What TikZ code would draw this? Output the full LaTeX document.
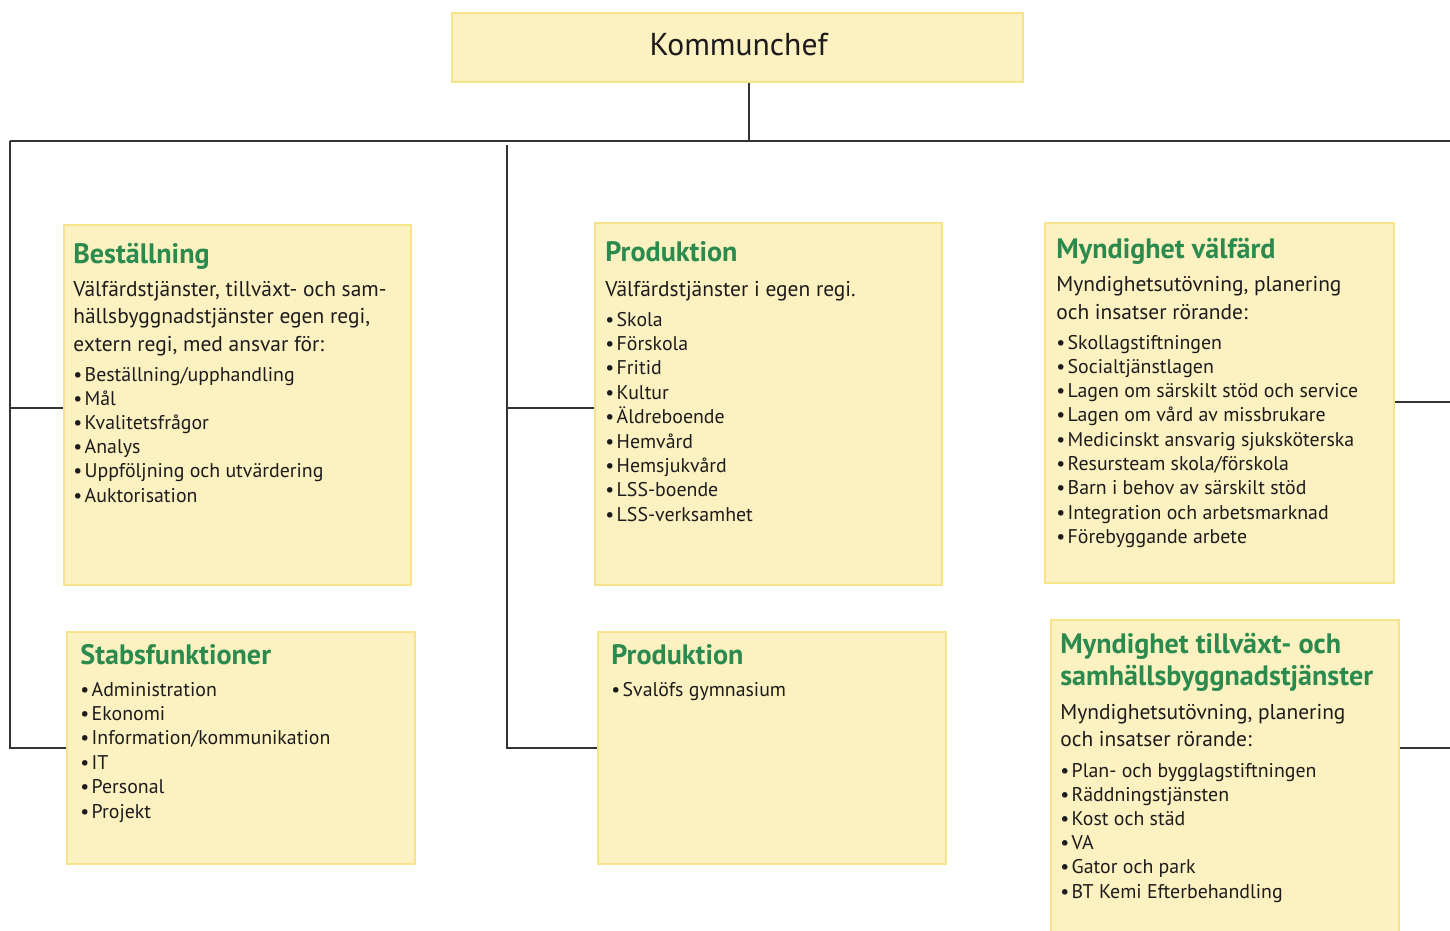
\documentclass[tikz,border=0pt]{standalone}
\usepackage{fontspec}
\setmainfont{PT Sans}
\definecolor{boxfill}{HTML}{FCF1C0}
\definecolor{boxline}{HTML}{F6E38A}
\definecolor{ttl}{HTML}{2B8A4E}
\definecolor{txt}{HTML}{1E1B1C}
\definecolor{conncol}{HTML}{333333}
\tikzset{
 orgbox/.style={draw=boxline, fill=boxfill, line width=1.3pt, inner sep=0pt, anchor=north west},
 conn/.style={draw=conncol, line width=1pt},
 ttlt/.style={anchor=base west, inner sep=0pt, text=ttl, font=\bfseries\fontsize{16}{18}\selectfont},
 para/.style={anchor=base west, inner sep=0pt, text=txt, font=\fontsize{12.2}{14}\selectfont},
 bul/.style={anchor=base west, inner sep=0pt, text=txt, font=\fontsize{11.3}{13}\selectfont},
 chefT/.style={text=txt, inner sep=0pt, font=\fontsize{18}{20}\selectfont},
}
% name, style, x, first baseline, step, list
\newcommand\txtlines[6]{%
  \foreach \t [count=\i] in {#6} {\node[#2] (#1-\i) at (#3, {#4+(\i-1)*#5}) {\t};}}
\newcommand\bulletlines[5]{%
  \foreach \t [count=\i] in {#5} {\node[bul] (#1-\i) at (#2, {#3+(\i-1)*#4}) {•\hspace{0.12em}\t};}}
\begin{document}
\begin{tikzpicture}[x=0.02cm,y=-0.02cm]
\useasboundingbox (0,0) rectangle (1450,930);
\clip (0,0) rectangle (1450,930);

% boxes
\node[orgbox, minimum width=11.42cm, minimum height=1.38cm] (chef) at (451,12) {};
\node[orgbox, minimum width=6.94cm, minimum height=7.2cm] (bes) at (63,224) {};
\node[orgbox, minimum width=6.94cm, minimum height=7.24cm] (prod) at (594,222) {};
\node[orgbox, minimum width=6.98cm, minimum height=7.2cm] (myv) at (1044,222) {};
\node[orgbox, minimum width=6.96cm, minimum height=4.64cm] (stab) at (66,631) {};
\node[orgbox, minimum width=6.96cm, minimum height=4.64cm] (prod2) at (597,631) {};
\node[orgbox, minimum width=6.96cm, minimum height=6.5cm] (myt) at (1050,619) {};

% connectors
\coordinate (bus) at (749,141);
\coordinate (busL) at (10,141);
\coordinate (busR) at (1450,141);
\coordinate (midtop) at (507,145);
\coordinate (rt1) at (1450,402);
\coordinate (rt2) at (1450,748);
\draw[conn] (bus |- chef.south) -- (bus);
\draw[conn] (busL) -- (busR);
\draw[conn] (busL) |- (stab.west);
\draw[conn] (busL |- bes.west) ++(0,3) -- ([yshift=-3*0.02cm]bes.west);
\draw[conn] (midtop) |- (prod2.west);
\draw[conn] (midtop |- prod.west) ++(0,4) -- ([yshift=-4*0.02cm]prod.west);
\draw[conn] (rt1 -| myv.east) -- (rt1);
\draw[conn] (rt2 -| myt.east) -- (rt2);

% Kommunchef
\node[chefT] (chefText) at ([xshift=0.02cm,yshift=0.06cm]chef.center) {Kommunchef};

% Beställning
\node[ttlt] (besT) at (73,263) {Beställning};
\txtlines{besP}{para}{73}{296}{27.5}{{Välfärdstjänster, tillväxt- och sam-},{hällsbyggnadstjänster egen regi,},{extern regi, med ansvar för:}}
\bulletlines{besB}{73}{381}{24.2}{{Beställning/upphandling},{Mål},{Kvalitetsfrågor},{Analys},{Uppföljning och utvärdering},{Auktorisation}}

% Produktion
\node[ttlt] (prodT) at (605,261) {Produktion};
\txtlines{prodP}{para}{605}{296}{27}{{Välfärdstjänster i egen regi.}}
\bulletlines{prodB}{605}{326}{24.4}{Skola,Förskola,Fritid,Kultur,Äldreboende,Hemvård,Hemsjukvård,LSS-boende,LSS-verksamhet}

% Myndighet välfärd
\node[ttlt] (myvT) at (1056,258) {Myndighet välfärd};
\txtlines{myvP}{para}{1056}{291}{28}{{Myndighetsutövning, planering},{och insatser rörande:}}
\bulletlines{myvB}{1056}{349}{24.3}{{Skollagstiftningen},{Socialtjänstlagen},{Lagen om särskilt stöd och service},{Lagen om vård av missbrukare},{Medicinskt ansvarig sjuksköterska},{Resursteam skola/förskola},{Barn i behov av särskilt stöd},{Integration och arbetsmarknad},{Förebyggande arbete}}

% Stabsfunktioner
\node[ttlt] (stabT) at (80,664) {Stabsfunktioner};
\bulletlines{stabB}{80}{696}{24.4}{{Administration},{Ekonomi},{Information/kommunikation},{IT},{Personal},{Projekt}}

% Produktion 2
\node[ttlt] (prod2T) at (611,664) {Produktion};
\bulletlines{prod2B}{611}{696}{24.4}{{Svalöfs gymnasium}}

% Myndighet tillväxt
\txtlines{mytT}{ttlt}{1060}{653}{32}{{Myndighet tillväxt- och},{samhällsbyggnadstjänster}}
\txtlines{mytP}{para}{1060}{719}{27}{{Myndighetsutövning, planering},{och insatser rörande:}}
\bulletlines{mytB}{1060}{777}{24.2}{{Plan- och bygglagstiftningen},{Räddningstjänsten},{Kost och städ},{VA},{Gator och park},{BT Kemi Efterbehandling}}
\end{tikzpicture}
\end{document}
